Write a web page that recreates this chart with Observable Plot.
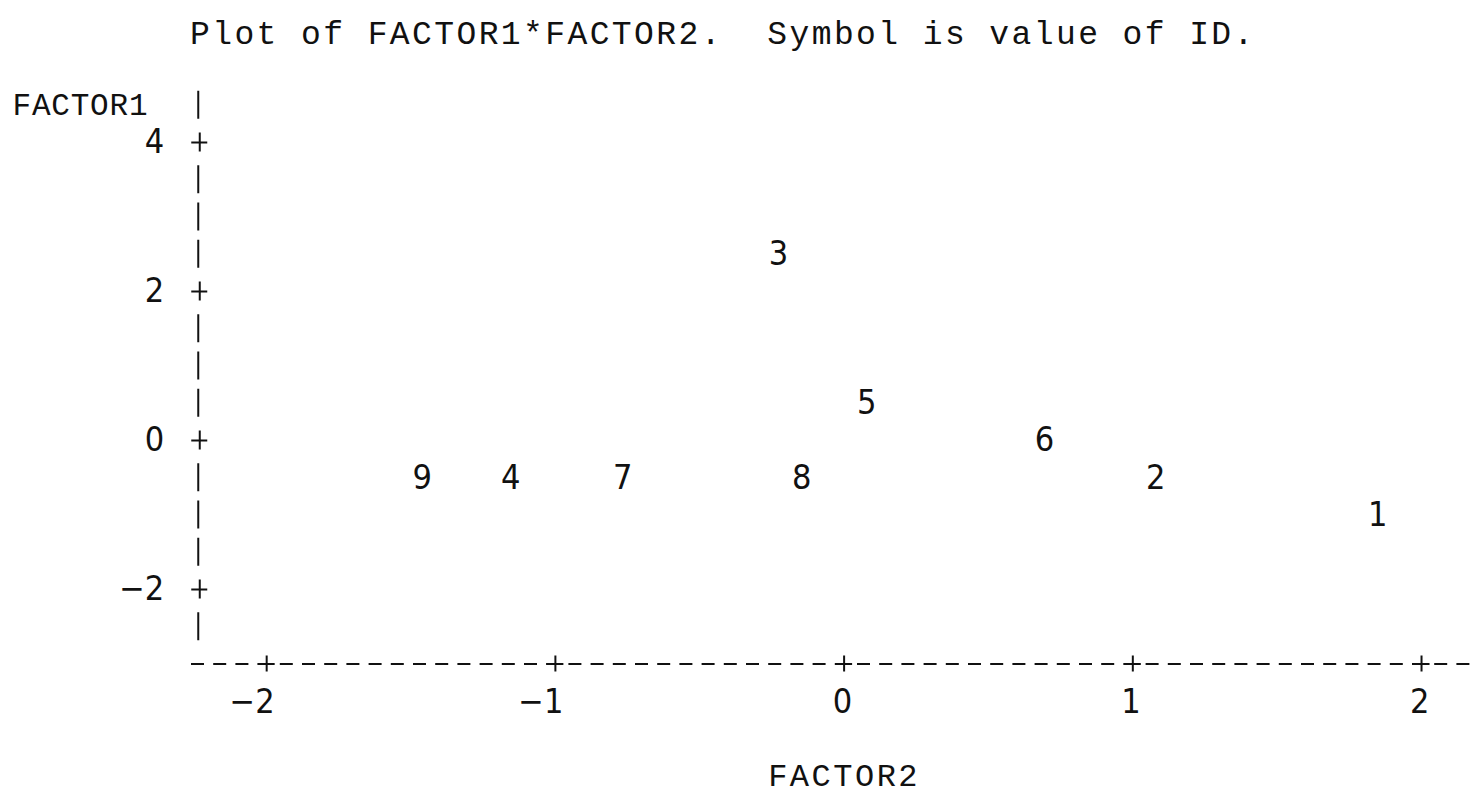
<!DOCTYPE html>
<html>
<head>
<meta charset="utf-8">
<script src="https://cdn.jsdelivr.net/npm/d3@7"></script>
<script src="https://cdn.jsdelivr.net/npm/@observablehq/plot@0.6"></script>
<style>
  body { margin: 0; background: #fff; }
  #title {
    height: 37px; padding-top: 19px; padding-left: 190px;
    font-family: "Liberation Mono", monospace; font-size: 33px; line-height: 33px;
    letter-spacing: 2.4px; white-space: pre; color: #111;
  }
  #chart svg { display: block; }
</style>
</head>
<body>
<div id="title">Plot of FACTOR1*FACTOR2.  Symbol is value of ID.</div>
<div id="chart"></div>
<script>
// ---- data ----
const ids     = ["1", "2", "3", "4", "5", "6", "7", "8", "9"];
const factor2 = [1.848, 1.079, -0.227, -1.155, 0.078, 0.694, -0.767, -0.147, -1.461];
const factor1 = [-1.0, -0.5, 2.5, -0.5, 0.5, 0.0, -0.5, -0.5, -0.5];

const xTicks = [-2, -1, 0, 1, 2];
const xTickLabels = ["\u22122", "\u22121", "0", "1", "2"];
const yTicks = [-2, 0, 2, 4];
const yTickLabels = ["\u22122", "0", "2", "4"];
const xLabel = "FACTOR2";
const yLabel = "FACTOR1";

// ---- layout ----
const xDomain = [-2.25, 2.18];
const yDomain = [-3, 4.5];
const axisX = -2.237;          // column of the vertical axis (FACTOR2 units)
const rowStep = 0.5;           // line-printer row height (FACTOR1 units)
const barRows = d3.range(-2.5, 4.5 + 1e-9, rowStep).filter(v => !yTicks.includes(v));

const ink = "#111";
const monoFont = "'Liberation Mono', monospace";
const digitFont = "'Liberation Sans Narrow', 'DejaVu Sans Condensed', sans-serif";

const data = ids.map((id, i) => ({id, x: factor2[i], y: factor1[i]}));

const plot = Plot.plot({
  width: 1473,
  height: 737,
  marginLeft: 194,
  marginRight: 0,
  marginTop: 48.75,
  marginBottom: 129.5,
  x: {domain: xDomain, axis: null},
  y: {domain: yDomain, axis: null},
  style: {background: "#fff", overflow: "visible"},
  marks: [
    // vertical axis: '|' segments on each row
    Plot.ruleX(barRows, {x: () => axisX, y1: d => d, y2: d => d, insetTop: -14, insetBottom: -14, stroke: ink, strokeWidth: 2}),
    // '+' ticks on vertical axis
    Plot.ruleX(yTicks, {x: () => axisX, y1: d => d, y2: d => d, insetTop: -9.5, insetBottom: -9.5, dx: 1.5, stroke: ink, strokeWidth: 2}),
    Plot.ruleY(yTicks, {y: d => d, x1: () => axisX, x2: () => axisX, insetLeft: -8, insetRight: -8, dx: 1.5, stroke: ink, strokeWidth: 2}),
    // horizontal axis: dashes
    Plot.ruleY([yDomain[0]], {x1: () => xDomain[0], x2: () => xDomain[1], insetLeft: -3, insetRight: -20, stroke: ink, strokeWidth: 2, strokeDasharray: "13,9.2"}),
    // '+' ticks on horizontal axis
    Plot.ruleX(xTicks, {x: d => d, y1: () => yDomain[0], y2: () => yDomain[0], insetTop: -8, insetBottom: -8, stroke: ink, strokeWidth: 2}),
    Plot.ruleY(xTicks, {y: () => yDomain[0], x1: d => d, x2: d => d, insetLeft: -8.5, insetRight: -8.5, stroke: ink, strokeWidth: 2}),
    // tick labels
    Plot.text(yTicks, {x: () => axisX, y: d => d, text: (d, i) => yTickLabels[i], textAnchor: "end", dx: -34, fontSize: 34, fontFamily: digitFont, fill: ink}),
    Plot.text(xTicks, {x: d => d, y: () => yDomain[0], text: (d, i) => xTickLabels[i], textAnchor: "end", dx: 8, dy: 38.5, fontSize: 34, fontFamily: digitFont, fill: ink}),
    // axis labels
    Plot.text([yLabel], {x: () => xDomain[0], y: () => 4.5, text: d => d, textAnchor: "start", dx: -182, fontSize: 31, fontFamily: monoFont, fill: ink}),
    Plot.text([xLabel], {x: () => 0, y: () => yDomain[0], text: d => d, dy: 111.5, fontSize: 32, fontFamily: monoFont, fill: ink}),
    // symbols = ID
    Plot.text(data, {x: "x", y: "y", text: "id", fontSize: 34, fontFamily: digitFont, fill: ink})
  ]
});

d3.select(plot).selectAll("text")
  .filter(function() { return this.textContent === xLabel; })
  .attr("letter-spacing", 2.5);
d3.select(plot).selectAll("text")
  .filter(function() { return this.textContent === yLabel; })
  .attr("letter-spacing", 0.8);

document.getElementById("chart").appendChild(plot);
</script>
</body>
</html>
